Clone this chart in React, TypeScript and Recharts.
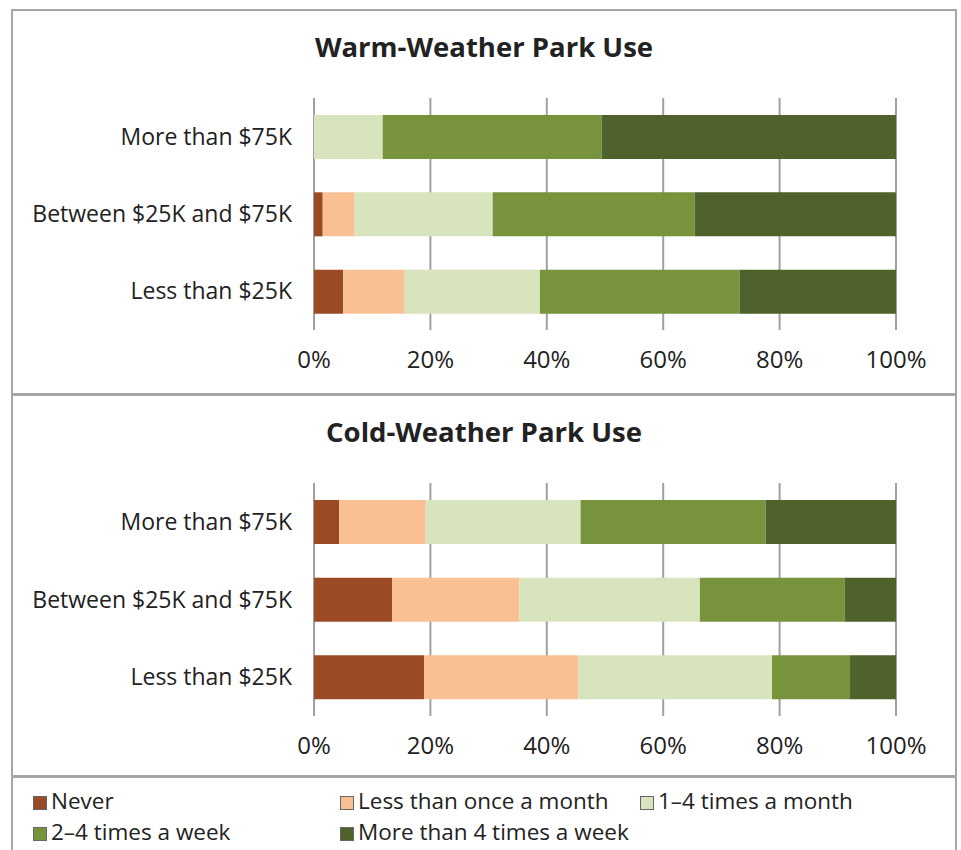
import React from "react";
import { BarChart, Bar, XAxis, YAxis, CartesianGrid } from "recharts";

const incomeGroups = ["More than $75K", "Between $25K and $75K", "Less than $25K"];
const frequencyKeys = ["never", "lessMonthly", "monthly", "weekly", "often"];
const frequencyLabels = [
  "Never",
  "Less than once a month",
  "1–4 times a month",
  "2–4 times a week",
  "More than 4 times a week",
];
const frequencyColors = ["#9A4A24", "#F9C193", "#D7E4BE", "#77933C", "#4F622B"];
const percentTicks = [0, 20, 40, 60, 80, 100];

// share of respondents (%) per frequency, one entry per income group
const warmNever = [0, 1.5, 5];
const warmLessMonthly = [0, 5.5, 10.6];
const warmMonthly = [11.8, 23.7, 23.2];
const warmWeekly = [37.6, 34.7, 34.3];
const warmOften = [50.6, 34.6, 26.9];

const coldNever = [4.3, 13.4, 18.9];
const coldLessMonthly = [14.9, 21.9, 26.5];
const coldMonthly = [26.6, 31.0, 33.3];
const coldWeekly = [31.8, 24.9, 13.4];
const coldOften = [22.4, 8.8, 7.9];

const buildRows = (series: number[][]) =>
  incomeGroups.map((group, i) => {
    const row: Record<string, string | number> = { group };
    frequencyKeys.forEach((k, j) => {
      row[k] = series[j][i];
    });
    return row;
  });

const warmData = buildRows([warmNever, warmLessMonthly, warmMonthly, warmWeekly, warmOften]);
const coldData = buildRows([coldNever, coldLessMonthly, coldMonthly, coldWeekly, coldOften]);

const FONT = "'Open Sans', sans-serif";
const BORDER = "2px solid #A6A6A6";

interface PanelProps {
  title: string;
  data: Record<string, string | number>[];
  top: number;
  height: number;
  plotTop: number;
  plotBottom: number;
}

function Panel({ title, data, top, height, plotTop, plotBottom }: PanelProps) {
  const axisHeight = 30;
  return (
    <div style={{ position: "absolute", left: 0, top, width: 961, height }}>
      <div
        style={{
          position: "absolute",
          left: 11,
          top: 0,
          width: 942,
          height: height - 4,
          border: BORDER,
        }}
      />
      <div
        style={{
          position: "absolute",
          left: 11,
          width: 946,
          top: plotTop - 70,
          textAlign: "center",
          fontFamily: FONT,
          fontWeight: 700,
          fontSize: 27.5,
          color: "#222",
        }}
      >
        {title}
      </div>
      <div style={{ position: "absolute", left: 0, top: 0 }}>
        <BarChart
          width={961}
          height={height}
          data={data}
          layout="vertical"
          barSize={44}
          margin={{ top: plotTop, bottom: height - plotBottom - axisHeight, left: 0, right: 65 }}
        >
          <CartesianGrid horizontal={false} stroke="#A0A0A0" strokeWidth={2} />
          <XAxis
            type="number"
            domain={[0, 100]}
            ticks={percentTicks}
            tickFormatter={(v) => `${v}%`}
            axisLine={false}
            tickLine={false}
            tickMargin={15}
            height={axisHeight}
            tick={{ fill: "#222", fontSize: 24, fontFamily: FONT }}
          />
          <YAxis
            type="category"
            dataKey="group"
            width={314}
            axisLine={false}
            tickLine={false}
            tickMargin={16}
            tick={{ fill: "#222", fontSize: 23, fontFamily: FONT }}
          />
          {frequencyKeys.map((k, i) => (
            <Bar
              key={k}
              dataKey={k}
              stackId="a"
              fill={frequencyColors[i]}
              isAnimationActive={false}
            />
          ))}
        </BarChart>
      </div>
    </div>
  );
}

function LegendBox() {
  const positions = [
    { x: 33, y: 788 },
    { x: 340, y: 788 },
    { x: 640, y: 788 },
    { x: 33, y: 819 },
    { x: 340, y: 819 },
  ];
  return (
    <div>
      <div
        style={{
          position: "absolute",
          left: 11,
          top: 776,
          width: 942,
          height: 90,
          border: BORDER,
        }}
      />
      {frequencyLabels.map((label, i) => (
        <div
          key={label}
          style={{
            position: "absolute",
            left: positions[i].x,
            top: positions[i].y,
            display: "flex",
            alignItems: "center",
            fontFamily: FONT,
            fontSize: 22.5,
            color: "#222",
            lineHeight: "26px",
            whiteSpace: "nowrap",
          }}
        >
          <span
            style={{
              display: "inline-block",
              width: 12,
              height: 12,
              background: frequencyColors[i],
              border: "1px solid #666",
              marginRight: 4,
              marginTop: 3,
            }}
          />
          {label}
        </div>
      ))}
    </div>
  );
}

export default function App() {
  return (
    <div
      style={{
        position: "absolute",
        left: 0,
        top: 0,
        width: 961,
        height: 850,
        overflow: "hidden",
        background: "#fff",
      }}
    >
      <Panel title="Warm-Weather Park Use" data={warmData} top={9} height={386} plotTop={89} plotBottom={321} />
      <Panel title="Cold-Weather Park Use" data={coldData} top={394} height={383} plotTop={89} plotBottom={322} />
      <LegendBox />
    </div>
  );
}
